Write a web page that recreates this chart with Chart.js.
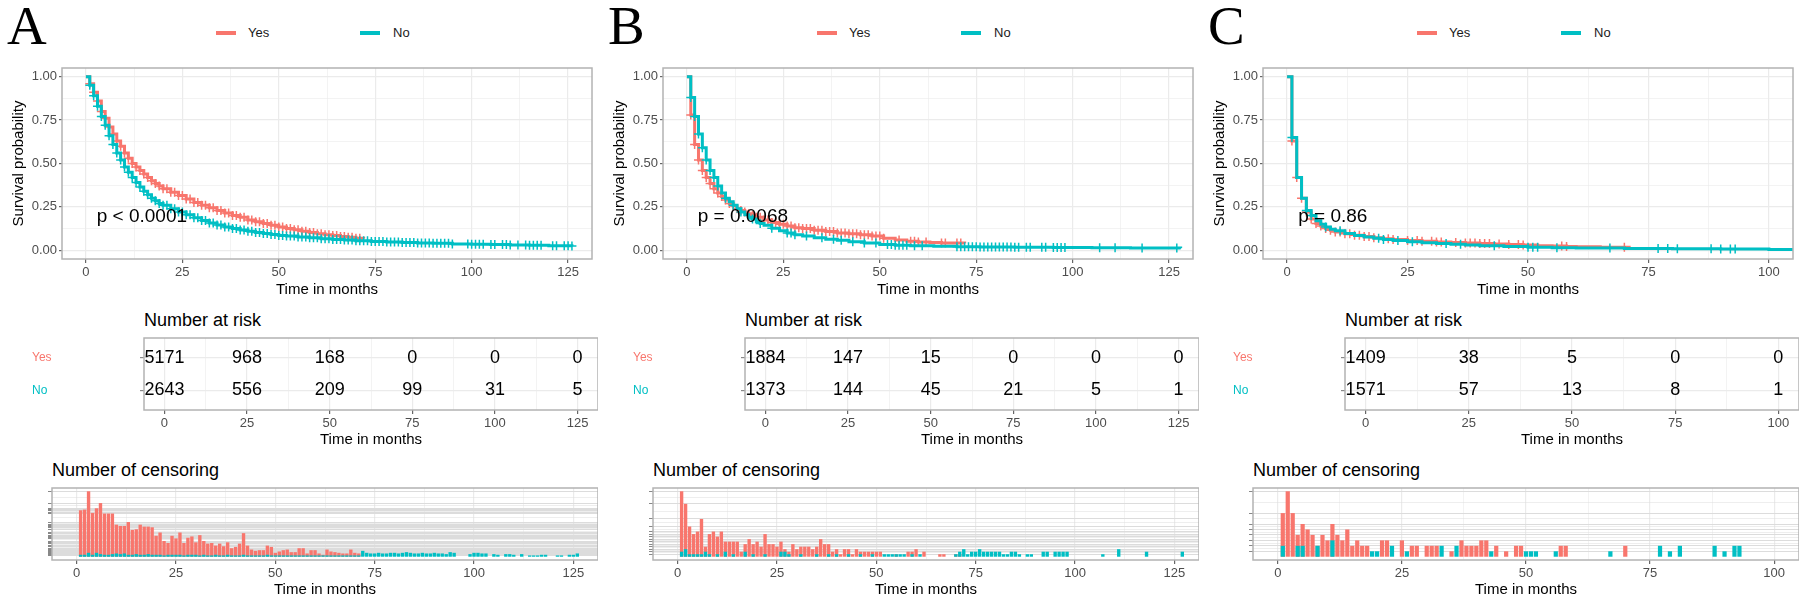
<!DOCTYPE html>
<html lang="en">
<head>
  <meta charset="UTF-8">
  <title>Survival by group: panels A, B, C</title>
  <script src="https://cdn.jsdelivr.net/npm/chart.js"></script>
  <style>
    html, body { margin: 0; padding: 0; background: #fff; }
    body {
      position: relative;
      width: 1814px;
      height: 606px;
      overflow: hidden;
      font-family: 'Liberation Sans', Arial, sans-serif;
    }
    canvas { position: absolute; }
    .letter {
      position: absolute;
      font-family: 'Liberation Serif', 'Times New Roman', serif;
      font-size: 55px;
      line-height: 55px;
      color: #000;
    }
    .legend-text { position: absolute; top: 25px; font-size: 13px; line-height: 16px; color: #1a1a1a; }
    .legend-key { position: absolute; top: 31px; width: 20px; height: 4px; }
    .block-title { position: absolute; font-size: 18px; line-height: 22px; color: #000; }
  </style>
</head>
<body>
<script>
  // ---- groups ----
  const groups = ['Yes', 'No'];
  const groupColors = ['#F8766D', '#00BFC4'];
  const pvalTexts = ['p < 0.0001', 'p = 0.0068', 'p = 0.86'];

  // ---- panel A ----
  const aTicks = [0, 25, 50, 75, 100, 125];
  const aYesTime = [0,1,2,3,4,5,6,7,8,9,10,11,12,13,14,15,16,17,18,19,20,22,24,26,28,30,32,34,36,38,40,42,44,46,48,50,52,54,56,58,60,62,64,66,68,70,72];
  const aYesSurv = [1,0.96,0.91,0.86,0.80,0.76,0.71,0.67,0.63,0.60,0.56,0.53,0.50,0.48,0.46,0.44,0.42,0.40,0.385,0.37,0.355,0.335,0.315,0.295,0.275,0.26,0.245,0.23,0.215,0.20,0.19,0.175,0.165,0.155,0.145,0.135,0.125,0.118,0.11,0.103,0.096,0.09,0.085,0.08,0.075,0.07,0.068];
  const aNoTime = [0,1,2,3,4,5,6,7,8,9,10,11,12,13,14,15,16,17,18,19,20,22,24,26,28,30,32,34,36,38,40,42,44,46,48,50,52,55,58,61,64,67,70,74,78,82,86,90,95,100,105,110,115,120,126];
  const aNoSurv = [1,0.95,0.89,0.83,0.77,0.72,0.66,0.61,0.56,0.52,0.48,0.45,0.42,0.39,0.365,0.34,0.32,0.30,0.285,0.27,0.26,0.24,0.22,0.205,0.188,0.172,0.158,0.146,0.135,0.125,0.117,0.11,0.103,0.097,0.091,0.086,0.082,0.077,0.072,0.067,0.063,0.059,0.055,0.051,0.048,0.045,0.042,0.04,0.037,0.035,0.033,0.031,0.029,0.027,0.025];
  const aYesCensTime = [1,2,3,4,5,6,7,8,9,10,11,12,13,14,15,16,17,18,19,20,21,22,23,24,25,26,27,28,29,30,31,32,33,34,35,36,37,38,39,40,41,42,43,44,45,46,47,48,49,50,51,52,53,54,55,56,57,58,59,60,61,62,63,64,65,66,67,68,69,70,71];
  const aYesCensN = [71,72,100,67,74,82,66,66,66,49,47,47,53,41,42,49,46,46,45,32,37,24,21,32,28,37,21,29,31,22,33,24,20,21,17,20,16,22,13,15,20,36,17,11,9,10,10,17,15,6,8,10,11,7,7,13,13,5,10,10,5,3,11,8,7,6,5,5,11,6,5];
  const aNoCensTime = [1,2,3,4,5,6,7,8,9,10,11,12,13,14,15,16,17,18,19,20,21,22,23,24,25,26,27,28,29,30,31,32,33,34,35,36,37,38,39,40,41,42,43,44,45,46,47,48,49,50,51,52,53,54,55,56,57,58,59,60,61,62,63,64,65,66,67,68,69,70,71,72,73,74,75,76,77,78,79,80,81,82,83,84,85,86,87,88,89,90,91,92,93,94,95,99,100,101,102,103,105,106,108,109,110,112,114,115,116,117,118,121,122,124,125,126];
  const aNoCensN = [3,3,6,3,6,4,3,3,4,5,4,5,3,3,4,3,3,4,3,3,3,2,3,3,3,3,2,3,3,3,2,3,2,2,3,2,2,3,2,2,2,3,2,2,2,2,2,3,2,2,2,2,2,2,2,2,2,2,2,2,2,2,2,2,2,2,2,2,2,2,2,9,6,5,5,6,5,5,6,6,5,6,7,6,5,5,6,5,5,6,5,5,4,7,6,4,6,6,5,5,4,3,4,4,3,4,2,2,2,3,3,2,2,3,3,5];
  const aRiskYes = [5171, 968, 168, 0, 0, 0];
  const aRiskNo = [2643, 556, 209, 99, 31, 5];

  // ---- panel B ----
  const bTicks = [0, 25, 50, 75, 100, 125];
  const bYesTime = [0,1,2,3,4,5,6,7,8,9,10,11,12,13,14,15,16,17,18,20,22,24,26,28,30,33,36,39,42,45,48,51,54,57,60,63,66,72];
  const bYesSurv = [1,0.78,0.61,0.52,0.46,0.42,0.385,0.355,0.33,0.31,0.29,0.27,0.255,0.24,0.23,0.22,0.21,0.20,0.19,0.175,0.16,0.15,0.14,0.13,0.125,0.115,0.108,0.10,0.095,0.09,0.082,0.07,0.06,0.052,0.048,0.045,0.042,0.04];
  const bNoTime = [0,1,2,3,4,5,6,7,8,9,10,11,12,13,14,15,16,17,18,19,20,22,24,26,28,30,33,36,39,42,46,50,54,58,64,70,76,85,95,105,115,128];
  const bNoSurv = [1,0.88,0.77,0.67,0.59,0.52,0.46,0.42,0.37,0.33,0.30,0.28,0.26,0.24,0.22,0.205,0.19,0.18,0.165,0.155,0.145,0.127,0.112,0.10,0.09,0.082,0.072,0.064,0.058,0.05,0.042,0.034,0.029,0.026,0.023,0.02,0.019,0.017,0.016,0.015,0.014,0.013];
  const bYesCensTime = [1,2,3,4,5,6,7,8,9,10,11,12,13,14,15,16,17,18,19,20,21,22,23,24,25,26,27,28,29,30,31,32,33,34,35,36,37,38,39,40,41,42,43,44,45,46,47,48,49,50,51,55,58,59,60,62,66,67,70,71];
  const bYesCensN = [26,21,12,9,10,15,4,9,10,8,10,6,6,6,6,2,5,7,5,6,4,9,5,5,4,6,3,2,5,3,4,4,4,3,4,7,5,5,2,3,1,3,3,1,3,2,2,2,2,2,2,1,2,2,3,2,1,1,1,1];
  const bNoCensTime = [1,2,3,4,5,6,7,8,10,12,14,17,19,22,26,27,28,31,35,38,40,43,46,49,52,53,54,55,56,57,59,61,70,71,72,73,74,75,76,77,78,79,80,81,82,83,84,85,86,88,89,92,93,95,96,97,98,107,111,118,127];
  const bNoCensN = [2,3,1,1,1,1,2,1,1,2,1,2,1,1,2,2,1,1,1,1,1,1,1,1,1,1,1,1,1,1,1,1,1,2,3,1,2,2,3,2,2,2,2,2,1,1,2,2,1,1,1,2,2,2,2,2,2,1,3,2,2];
  const bRiskYes = [1884, 147, 15, 0, 0, 0];
  const bRiskNo = [1373, 144, 45, 21, 5, 1];

  // ---- panel C ----
  const cTicks = [0, 25, 50, 75, 100];
  const cYesTime = [0,1,2,3,4,5,6,7,8,9,10,12,14,16,18,20,22,25,28,31,34,37,40,43,46,49,52,55,58,60,65,71];
  const cYesSurv = [1,0.63,0.42,0.30,0.22,0.18,0.155,0.14,0.125,0.115,0.105,0.095,0.087,0.08,0.073,0.067,0.062,0.057,0.052,0.048,0.045,0.042,0.039,0.036,0.033,0.03,0.027,0.025,0.022,0.02,0.018,0.016];
  const cNoTime = [0,1,2,3,4,5,6,7,8,9,10,12,14,16,18,20,22,25,28,31,34,37,40,45,50,55,60,70,80,90,100,110];
  const cNoSurv = [1,0.65,0.42,0.30,0.23,0.20,0.17,0.15,0.135,0.122,0.112,0.097,0.086,0.077,0.069,0.062,0.056,0.05,0.044,0.039,0.035,0.03,0.027,0.022,0.018,0.015,0.013,0.011,0.009,0.007,0.005,0.005];
  const cYesCensTime = [1,2,3,4,5,6,7,8,9,10,11,12,13,14,15,16,17,18,21,22,25,27,28,30,31,32,35,37,38,39,40,41,42,44,46,48,49,57,58,70];
  const cYesCensN = [8,12,8,4,6,5,4,2,4,3,6,4,3,5,2,3,2,2,3,3,3,2,2,2,2,2,1,3,2,2,2,3,3,2,1,2,2,2,2,2];
  const cNoCensTime = [1,4,5,8,11,19,20,23,26,33,36,43,50,51,52,56,67,77,79,81,88,90,92,93];
  const cNoCensN = [2,2,2,2,3,1,1,2,1,2,2,1,1,1,1,1,1,2,1,2,2,1,2,2];
  const cRiskYes = [1409, 38, 5, 0, 0];
  const cRiskNo = [1571, 57, 13, 8, 1];

  // ---- layout ----
  const GRID = '#ebebeb';
  const BORDER = '#b3b3b3';
  const TICK_TXT = '#4d4d4d';
  Chart.defaults.font.family = "'Liberation Sans', Arial, sans-serif";

  const panels = [
    { letter: 'A', off: 0, xMin: -6.2, xMax: 131.2, ticks: aTicks, pval: pvalTexts[0], pvalX: 2.8,
      curves: [
        { t: aYesTime, s: aYesSurv, ct: aYesCensTime, cn: aYesCensN },
        { t: aNoTime, s: aNoSurv, ct: aNoCensTime, cn: aNoCensN }
      ], risk: [aRiskYes, aRiskNo] },
    { letter: 'B', off: 601, xMin: -6.2, xMax: 131.2, ticks: bTicks, pval: pvalTexts[1], pvalX: 2.8,
      curves: [
        { t: bYesTime, s: bYesSurv, ct: bYesCensTime, cn: bYesCensN },
        { t: bNoTime, s: bNoSurv, ct: bNoCensTime, cn: bNoCensN }
      ], risk: [bRiskYes, bRiskNo] },
    { letter: 'C', off: 1201, xMin: -5, xMax: 105, ticks: cTicks, pval: pvalTexts[2], pvalX: 2.3,
      curves: [
        { t: cYesTime, s: cYesSurv, ct: cYesCensTime, cn: cYesCensN },
        { t: cNoTime, s: cNoSurv, ct: cNoCensTime, cn: cNoCensN }
      ], risk: [cRiskYes, cRiskNo] }
  ];

  // ---- helpers ----
  function makeCanvas(left, top, w, h) {
    const cv = document.createElement('canvas');
    cv.width = w;
    cv.height = h;
    cv.style.left = left + 'px';
    cv.style.top = top + 'px';
    document.body.appendChild(cv);
    return cv;
  }

  function addDiv(cls, text, left, top, color) {
    const d = document.createElement('div');
    d.className = cls;
    d.textContent = text;
    d.style.left = left + 'px';
    d.style.top = top + 'px';
    if (color) d.style.background = color;
    document.body.appendChild(d);
    return d;
  }

  // major breaks plus the ggplot-style minor breaks halfway between them
  function withMinors(majors, min, max) {
    const step = majors[1] - majors[0];
    const out = [];
    for (let v = majors[0] - step / 2; v <= majors[majors.length - 1] + step / 2 + 1e-9; v += step / 2) {
      if (v >= min && v <= max) out.push(+v.toFixed(6));
    }
    return out;
  }

  // value of the step curve at time c
  function survAt(times, surv, c) {
    let v = surv[0];
    for (let i = 0; i < times.length; i++) {
      if (times[i] <= c) v = surv[i];
    }
    return v;
  }

  const panelBorder = {
    id: 'panelBorder',
    afterDraw(chart) {
      const { ctx, chartArea: a } = chart;
      ctx.save();
      ctx.strokeStyle = BORDER;
      ctx.lineWidth = 1.5;
      ctx.strokeRect(a.left, a.top, a.right - a.left, a.bottom - a.top);
      ctx.restore();
    }
  };

  const pvalLabel = {
    id: 'pvalLabel',
    afterDatasetsDraw(chart, args, opts) {
      const { ctx, scales } = chart;
      ctx.save();
      ctx.font = "19px 'Liberation Sans', Arial, sans-serif";
      ctx.fillStyle = '#000';
      ctx.textAlign = 'left';
      ctx.textBaseline = 'middle';
      ctx.fillText(opts.text, scales.x.getPixelForValue(opts.x), scales.y.getPixelForValue(opts.y));
      ctx.restore();
    }
  };

  const riskText = {
    id: 'riskText',
    afterDatasetsDraw(chart) {
      const ctx = chart.ctx;
      ctx.save();
      ctx.font = "18px 'Liberation Sans', Arial, sans-serif";
      ctx.fillStyle = '#000';
      ctx.textAlign = 'center';
      ctx.textBaseline = 'middle';
      chart.data.datasets.forEach((ds, i) => {
        chart.getDatasetMeta(i).data.forEach((el, j) => {
          ctx.fillText(String(ds.data[j].n), el.x, el.y);
        });
      });
      ctx.restore();
    }
  };

  function timeAxis(p, height) {
    const isMajor = v => p.ticks.includes(v);
    return {
      type: 'linear',
      min: p.xMin,
      max: p.xMax,
      offset: false,
      afterBuildTicks: s => { s.ticks = withMinors(p.ticks, p.xMin, p.xMax).map(v => ({ value: v })); },
      afterFit: s => { s.height = height; },
      ticks: {
        autoSkip: false, maxRotation: 0, padding: 2, color: TICK_TXT, font: { size: 13 },
        callback: v => isMajor(v) ? String(v) : ''
      },
      grid: {
        offset: false,
        color: GRID,
        lineWidth: c => (c.tick && isMajor(c.tick.value)) ? 1.2 : 0.6,
        tickLength: 4,
        tickColor: c => (c.tick && isMajor(c.tick.value)) ? '#666' : 'rgba(0,0,0,0)'
      },
      border: { display: false },
      title: { display: true, text: 'Time in months', color: '#000', font: { size: 15 }, padding: { top: 0, bottom: 0 } }
    };
  }

  // ---- build the figure ----
  panels.forEach(p => {
    const o = p.off;
    const right = o + 598;

    // letter and legend
    addDiv('letter', p.letter, o + 7, -2);
    groups.forEach((g, i) => {
      addDiv('legend-key', '', o + 216 + i * 144, 31, groupColors[i]);
      addDiv('legend-text', g, o + 248 + i * 145, 25);
    });

    // Kaplan-Meier curves
    const kmLeft = o;
    const kmCanvas = makeCanvas(kmLeft, 54, right - kmLeft, 245);
    const kmSets = [];
    p.curves.forEach((c, i) => {
      kmSets.push({
        type: 'line',
        label: groups[i],
        data: c.t.map((t, j) => ({ x: t, y: c.s[j] })),
        borderColor: groupColors[i],
        borderWidth: 3,
        stepped: 'before',
        pointRadius: 0,
        fill: false,
        order: 4 - 2 * i
      });
      kmSets.push({
        type: 'scatter',
        label: groups[i] + ' censored',
        data: c.ct.map(t => ({ x: t, y: survAt(c.t, c.s, t) })),
        pointStyle: 'cross',
        pointRadius: 4.5,
        borderWidth: 1.5,
        borderColor: groupColors[i],
        backgroundColor: groupColors[i],
        order: 3 - 2 * i
      });
    });
    const yMajors = [0, 0.25, 0.5, 0.75, 1];
    const isMajorY = v => yMajors.some(m => Math.abs(m - v) < 1e-9);
    new Chart(kmCanvas, {
      type: 'line',
      data: { datasets: kmSets },
      options: {
        responsive: false,
        animation: false,
        events: [],
        layout: { padding: { top: 14, left: 0, right: 0, bottom: 0 } },
        plugins: {
          legend: { display: false },
          tooltip: { enabled: false },
          pvalLabel: { text: p.pval, x: p.pvalX, y: 0.195 }
        },
        scales: {
          x: timeAxis(p, 40),
          y: {
            type: 'linear',
            min: -0.05,
            max: 1.05,
            afterBuildTicks: s => { s.ticks = withMinors(yMajors, 0, 1).map(v => ({ value: v })); },
            afterFit: s => { s.width = 62; },
            ticks: {
              autoSkip: false, padding: 2, color: TICK_TXT, font: { size: 13 },
              callback: v => isMajorY(v) ? v.toFixed(2) : ''
            },
            grid: {
              color: GRID,
              lineWidth: c => (c.tick && isMajorY(c.tick.value)) ? 1.2 : 0.6,
              tickLength: 3,
              tickColor: c => (c.tick && isMajorY(c.tick.value)) ? '#666' : 'rgba(0,0,0,0)'
            },
            border: { display: false },
            title: { display: true, text: 'Survival probability', color: '#000', font: { size: 15 }, padding: { top: 10, bottom: 0 } }
          }
        }
      },
      plugins: [panelBorder, pvalLabel]
    });

    // Number at risk table
    addDiv('block-title', 'Number at risk', o + 144, 309);
    const riskLeft = o + 32;
    const riskCanvas = makeCanvas(riskLeft, 324, right - riskLeft, 125);
    const rowOf = i => groups.length - i;
    new Chart(riskCanvas, {
      type: 'scatter',
      data: {
        datasets: p.risk.map((counts, i) => ({
          label: groups[i],
          data: counts.map((n, j) => ({ x: p.ticks[j], y: rowOf(i), n: n })),
          pointRadius: 0
        }))
      },
      options: {
        responsive: false,
        animation: false,
        events: [],
        layout: { padding: { top: 14, left: 0, right: 0, bottom: 0 } },
        plugins: { legend: { display: false }, tooltip: { enabled: false } },
        scales: {
          x: timeAxis(p, 39),
          y: {
            type: 'linear',
            min: 0.4,
            max: groups.length + 0.6,
            afterBuildTicks: s => { s.ticks = groups.map((g, i) => ({ value: rowOf(i) })); },
            afterFit: s => { s.width = 112; },
            ticks: {
              autoSkip: false,
              crossAlign: 'far',
              font: { size: 12 },
              color: c => groupColors[groups.length - c.tick.value],
              callback: v => groups[groups.length - v]
            },
            grid: { color: GRID, lineWidth: 1.2, tickLength: 4, tickColor: '#888' },
            border: { display: false }
          }
        }
      },
      plugins: [panelBorder, riskText]
    });

    // Number of censoring histogram
    addDiv('block-title', 'Number of censoring', o + 52, 459);
    const histLeft = o + 40;
    const histCanvas = makeCanvas(histLeft, 474, right - histLeft, 125);
    const allN = p.curves.flatMap(c => c.cn);
    const maxN = Math.max(...allN);
    const levels = [...new Set(allN)].sort((a, b) => a - b);
    const levelTicks = [];
    levels.forEach((v, i) => {
      if (i > 0) levelTicks.push((levels[i - 1] + v) / 2);
      levelTicks.push(v);
    });
    new Chart(histCanvas, {
      type: 'bar',
      data: {
        datasets: p.curves.map((c, i) => ({
          label: groups[i],
          data: c.ct.map((t, j) => ({ x: t, y: c.cn[j] })),
          backgroundColor: groupColors[i],
          grouped: false,
          barPercentage: 0.85,
          categoryPercentage: 1,
          order: 2 - i
        }))
      },
      options: {
        responsive: false,
        animation: false,
        events: [],
        layout: { padding: { top: 14, left: 0, right: 0, bottom: 0 } },
        plugins: { legend: { display: false }, tooltip: { enabled: false } },
        scales: {
          x: timeAxis(p, 39),
          y: {
            type: 'linear',
            min: -0.05 * maxN,
            max: 1.05 * maxN,
            afterBuildTicks: s => { s.ticks = levelTicks.map(v => ({ value: v })); },
            afterFit: s => { s.width = 12; },
            ticks: { autoSkip: false, padding: 0, callback: () => '' },
            grid: {
              color: '#dcdcdc',
              lineWidth: c => (c.tick && levels.includes(c.tick.value)) ? 1 : 0.5,
              tickLength: 4,
              tickColor: c => (c.tick && levels.includes(c.tick.value)) ? '#888' : 'rgba(0,0,0,0)'
            },
            border: { display: false }
          }
        }
      },
      plugins: [panelBorder]
    });
  });
</script>
</body>
</html>
